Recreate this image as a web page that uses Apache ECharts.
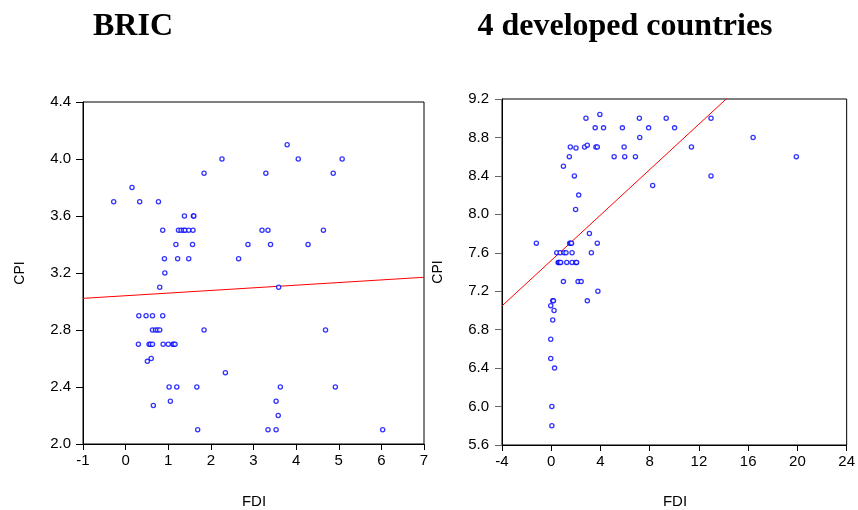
<!DOCTYPE html>
<html>
<head>
<meta charset="utf-8">
<script src="https://cdn.jsdelivr.net/npm/echarts@6/dist/echarts.min.js"></script>
<style>
html,body{margin:0;padding:0;background:#fff;}
#c{width:858px;height:510px;}
</style>
</head>
<body>
<div id="c"></div>
<script>
// ---- BRIC data ----
var bricFDI = [-0.28,0.15,0.33,0.77,0.87,1.38,1.59,1.60,1.24,1.30,1.36,1.40,1.48,1.58,1.18,1.57,0.91,1.22,1.48,0.92,0.80,1.84,2.26,2.65,2.87,3.20,3.34,3.29,3.40,3.59,3.79,4.05,4.28,4.64,4.87,5.08,4.69,4.92,6.03,0.31,0.48,0.63,0.87,0.63,0.70,0.75,0.80,0.30,0.55,0.58,0.63,0.88,1.00,1.11,1.13,1.16,0.51,0.60,1.84,1.02,1.20,1.67,0.65,1.05,1.69,2.34,3.63,3.53,3.58,3.34,3.53];
var bricCPI = [3.7,3.8,3.7,3.7,3.5,3.6,3.6,3.6,3.5,3.5,3.5,3.5,3.5,3.5,3.4,3.4,3.3,3.3,3.3,3.2,3.1,3.9,4.0,3.3,3.4,3.5,3.5,3.9,3.4,3.1,4.1,4.0,3.4,3.5,3.9,4.0,2.8,2.4,2.1,2.9,2.9,2.9,2.9,2.8,2.8,2.8,2.8,2.7,2.7,2.7,2.7,2.7,2.7,2.7,2.7,2.7,2.58,2.60,2.8,2.4,2.4,2.4,2.27,2.3,2.1,2.5,2.4,2.3,2.2,2.1,2.1];
var bricFitX = [-1, 7];
var bricFitY = [3.022, 3.170];
var bricXTicks = {min:-1, max:7, interval:1};
var bricYTicks = {min:2.0, max:4.4, interval:0.4};

// ---- 4 developed countries data ----
var devFDI = [-1.21,-0.04,0.12,0.18,0.23,0.12,-0.04,-0.04,0.27,0.05,0.05,0.99,2.18,2.43,2.93,3.79,3.10,3.26,3.74,1.50,1.58,1.65,0.45,0.72,1.04,1.20,1.69,0.56,0.62,0.70,0.77,1.26,1.69,2.01,2.06,1.98,2.23,1.88,0.99,1.47,5.11,5.97,6.84,8.24,1.55,2.01,2.71,2.93,3.63,3.74,5.92,11.39,7.19,16.40,3.57,4.25,5.78,7.91,10.02,2.82,3.95,7.16,9.34,12.98,12.98,19.91];
var devCPI = [7.7,7.05,7.1,7.1,7.0,6.9,6.7,6.5,6.4,6.0,5.8,7.3,7.3,7.3,7.1,7.2,7.8,7.6,7.7,7.7,7.7,7.7,7.6,7.6,7.6,7.6,7.6,7.5,7.5,7.5,7.5,7.5,7.5,7.5,7.5,8.05,8.2,8.4,8.5,8.6,8.6,8.6,8.6,8.3,8.7,8.69,8.7,8.72,8.7,8.7,8.7,8.7,8.8,8.8,8.9,8.9,8.9,8.9,8.9,9.0,9.04,9.0,9.0,9.0,8.4,8.6];
var devFitX = [-4, 24];
var devFitY = [7.047, 10.357];
var devXTicks = {min:-4, max:24, interval:4};
var devYTicks = {min:5.6, max:9.2, interval:0.4};

var titles = ['BRIC', '4 developed countries'];
var xName = 'FDI', yName = 'CPI';

function zip(a, b){ return a.map(function(v,i){ return [v, b[i]]; }); }

var chart = echarts.init(document.getElementById('c'), null, {renderer:'canvas'});
var tickFont = {fontFamily:'Liberation Sans', fontSize:15, color:'#000'};

function xAxisCfg(idx, t, margin){
  return {type:'value', gridIndex:idx, min:t.min, max:t.max, interval:t.interval,
    axisLine:{show:true, onZero:false, lineStyle:{color:'#000', width:1}},
    axisTick:{show:true, inside:false, length:6, lineStyle:{color:'#000'}},
    splitLine:{show:false},
    axisLabel:Object.assign({margin:margin, formatter:function(v){return String(Math.round(v));}}, tickFont)};
}
function yAxisCfg(idx, t, margin, tickColor){
  return {type:'value', gridIndex:idx, min:t.min, max:t.max, interval:t.interval,
    axisLine:{show:true, onZero:false, lineStyle:{color:'#000', width:1}},
    axisTick:{show:true, inside:false, length:7, lineStyle:{color:tickColor}},
    splitLine:{show:false},
    axisLabel:Object.assign({margin:margin, formatter:function(v){return v.toFixed(1);}}, tickFont)};
}
var scatterStyle = {color:'#ffffff', borderColor:'#0000ff', borderWidth:1.3};

var option = {
  animation:false,
  backgroundColor:'#fff',
  grid:[
    {left:83, top:102, width:341, height:342, show:true, borderColor:'#000', borderWidth:1, backgroundColor:'transparent'},
    {left:502, top:99, width:347, height:346, show:true, borderColor:'#000', borderWidth:1, backgroundColor:'transparent'}
  ],
  xAxis:[ xAxisCfg(0, bricXTicks, 9), xAxisCfg(1, devXTicks, 9) ],
  yAxis:[ yAxisCfg(0, bricYTicks, 12, '#000'), yAxisCfg(1, devYTicks, 13, '#666') ],
  series:[
    {type:'line', xAxisIndex:0, yAxisIndex:0, data:zip(bricFitX, bricFitY), showSymbol:false, symbol:'none', clip:true, silent:true,
      lineStyle:{color:'#ff0000', width:1}, z:1},
    {type:'scatter', xAxisIndex:0, yAxisIndex:0, data:zip(bricFDI, bricCPI), symbol:'circle', symbolSize:4.2, itemStyle:scatterStyle, silent:true, z:2},
    {type:'line', xAxisIndex:1, yAxisIndex:1, data:zip(devFitX, devFitY), showSymbol:false, symbol:'none', clip:true, silent:true,
      lineStyle:{color:'#ff0000', width:1}, z:1},
    {type:'scatter', xAxisIndex:1, yAxisIndex:1, data:zip(devFDI, devCPI), symbol:'circle', symbolSize:4.2, itemStyle:scatterStyle, silent:true, z:2}
  ],
  graphic:[
    {type:'text', x:133, y:27, style:{text:titles[0], font:'bold 32px "Liberation Serif"', fill:'#000', align:'center', verticalAlign:'middle'}},
    {type:'text', x:625, y:27, style:{text:titles[1], font:'bold 32px "Liberation Serif"', fill:'#000', align:'center', verticalAlign:'middle'}},
    {type:'text', x:254, y:502, style:{text:xName, font:'15px "Liberation Sans"', fill:'#000', align:'center', verticalAlign:'middle'}},
    {type:'text', x:675, y:502, style:{text:xName, font:'15px "Liberation Sans"', fill:'#000', align:'center', verticalAlign:'middle'}},
    {type:'text', x:20, y:273, rotation:Math.PI/2, style:{text:yName, font:'14px "Liberation Sans"', fill:'#000', align:'center', verticalAlign:'middle'}},
    {type:'text', x:438, y:272, rotation:Math.PI/2, style:{text:yName, font:'14px "Liberation Sans"', fill:'#000', align:'center', verticalAlign:'middle'}}
  ]
};
chart.setOption(option);
</script>
</body>
</html>
